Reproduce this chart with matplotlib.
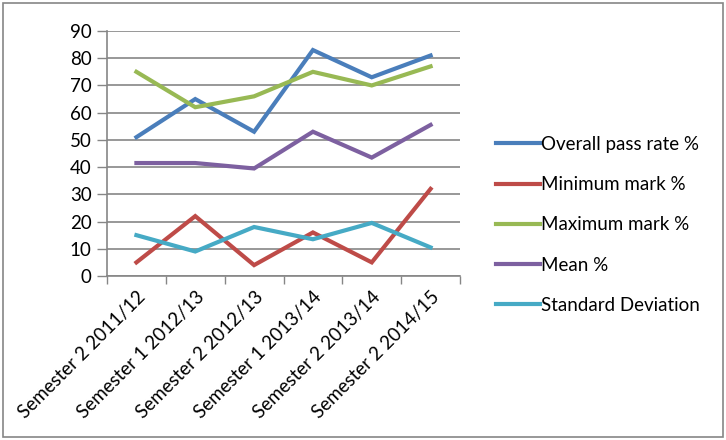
import matplotlib
matplotlib.use("Agg")
import matplotlib.pyplot as plt
from matplotlib.patches import Rectangle

categories = ["Semester 2 2011/12", "Semester 1 2012/13", "Semester 2 2012/13",
              "Semester 1 2013/14", "Semester 2 2013/14", "Semester 2 2014/15"]
overall_pass = [51, 65, 53, 83, 73, 81]
minimum_mark = [5, 22, 4, 16, 5, 32]
maximum_mark = [75, 62, 66, 75, 70, 77]
mean_pct = [41.5, 41.5, 39.5, 53, 43.5, 55.5]
std_dev = [15, 9, 18, 13.5, 19.5, 10.5]

series = [
    ("Overall pass rate %", overall_pass, "#4A7EBB"),
    ("Minimum mark %", minimum_mark, "#BE4B48"),
    ("Maximum mark %", maximum_mark, "#98B954"),
    ("Mean %", mean_pct, "#7D60A0"),
    ("Standard Deviation", std_dev, "#46AAC5"),
]

plt.rcParams['font.family'] = ['Lato', 'DejaVu Sans']
FS = 13.5

fig = plt.figure(figsize=(7.26, 4.40), dpi=100)
ax = fig.add_axes([107/726, 1-276/440, (460-107)/726, (276-31)/440])

x = list(range(len(categories)))
for name, vals, col in series:
    ax.plot(x, vals, color=col, lw=3.0, label=name, solid_joinstyle='miter')

ax.set_ylim(0, 90)
ax.set_yticks(range(0, 91, 10))
ax.set_xlim(-0.5, len(categories) - 0.5)
ax.set_xticks(x)
ax.set_xticklabels(categories, rotation=45, ha='right', rotation_mode='anchor', fontsize=FS)
ax.set_xticks([i - 0.5 for i in range(len(categories) + 1)], minor=True)
ax.tick_params(axis='x', which='major', length=0, pad=9)
ax.tick_params(axis='x', which='minor', length=6, color='#868686', width=1)
ax.tick_params(axis='y', length=7, color='#868686', width=1, labelsize=FS, pad=4)
ax.yaxis.grid(True, color='#868686', lw=1.2)
ax.set_axisbelow(True)
for s in ['top', 'right']:
    ax.spines[s].set_visible(False)
for s in ['left', 'bottom']:
    ax.spines[s].set_color('#868686')
    ax.spines[s].set_linewidth(1.2)

fig.legend(loc='upper left', bbox_to_anchor=(496/726, 1-136/440), frameon=False,
           fontsize=FS, handlelength=2.35, handletextpad=0.05, labelspacing=1.24,
           borderpad=0, borderaxespad=0)

fig.patches.append(Rectangle((3/726, 3/440), 720/726, 434/440, transform=fig.transFigure,
                             fill=False, edgecolor='#868686', lw=1.2))

fig.savefig("out.png", dpi=100)
